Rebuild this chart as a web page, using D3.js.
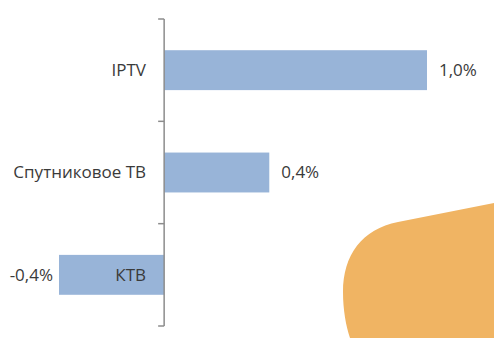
<!DOCTYPE html>
<html lang="ru">
<head>
<meta charset="UTF-8">
<script src="https://cdn.jsdelivr.net/npm/d3@7"></script>
<style>
  body { margin: 0; background: #fff; }
  text { font-family: "Open Sans", sans-serif; fill: #3a3a3a; }
</style>
</head>
<body>
<script>
// chart data
const categories = ["IPTV", "Спутниковое ТВ", "КТВ"];
const values = [1.0, 0.4, -0.4];
const valueLabels = ["1,0%", "0,4%", "-0,4%"];

const w = 494, h = 338;

const svg = d3.select("body").append("svg")
  .attr("width", w)
  .attr("height", h);

// decorative orange blob in the bottom right corner
svg.append("path")
  .attr("d", "M494,203 L398,222 C362,229 343,255 343,292 C343,310 346,326 350,338 L494,338 Z")
  .attr("fill", "#F0B463");

const x = d3.scaleLinear()
  .domain([-0.4, 1.0])
  .range([59, 427]);

const y = d3.scaleBand()
  .domain(categories)
  .range([19, 326])
  .paddingInner(0.61)
  .paddingOuter(0.305);

// bars
svg.selectAll("rect.bar")
  .data(values)
  .enter()
  .append("rect")
  .attr("class", "bar")
  .attr("x", d => Math.min(x(0), x(d)))
  .attr("y", (d, i) => y(categories[i]))
  .attr("width", d => Math.abs(x(d) - x(0)))
  .attr("height", y.bandwidth())
  .attr("fill", "#98B4D8");

// category axis with ticks between the categories
const ax = svg.append("g").attr("stroke", "#8C8C8C").attr("stroke-width", 1.5);
const [y0, y1] = y.range();
ax.append("line")
  .attr("x1", x(0)).attr("x2", x(0))
  .attr("y1", y0).attr("y2", y1);
d3.range(categories.length + 1).forEach(k => {
  const ty = y0 + k * y.step();
  ax.append("line")
    .attr("x1", x(0) - 6).attr("x2", x(0))
    .attr("y1", ty).attr("y2", ty);
});

// category labels
svg.selectAll("text.cat")
  .data(categories)
  .enter()
  .append("text")
  .attr("class", "cat")
  .attr("x", 146)
  .attr("y", d => y(d) + y.bandwidth() / 2)
  .attr("dy", "0.35em")
  .attr("text-anchor", "end")
  .attr("font-size", 17)
  .text(d => d);

// value labels
svg.selectAll("text.val")
  .data(values)
  .enter()
  .append("text")
  .attr("class", "val")
  .attr("x", d => d >= 0 ? x(d) + 12 : x(d) - 6)
  .attr("y", (d, i) => y(categories[i]) + y.bandwidth() / 2)
  .attr("dy", "0.35em")
  .attr("text-anchor", d => d >= 0 ? "start" : "end")
  .attr("font-size", 17)
  .text((d, i) => valueLabels[i]);
</script>
</body>
</html>
